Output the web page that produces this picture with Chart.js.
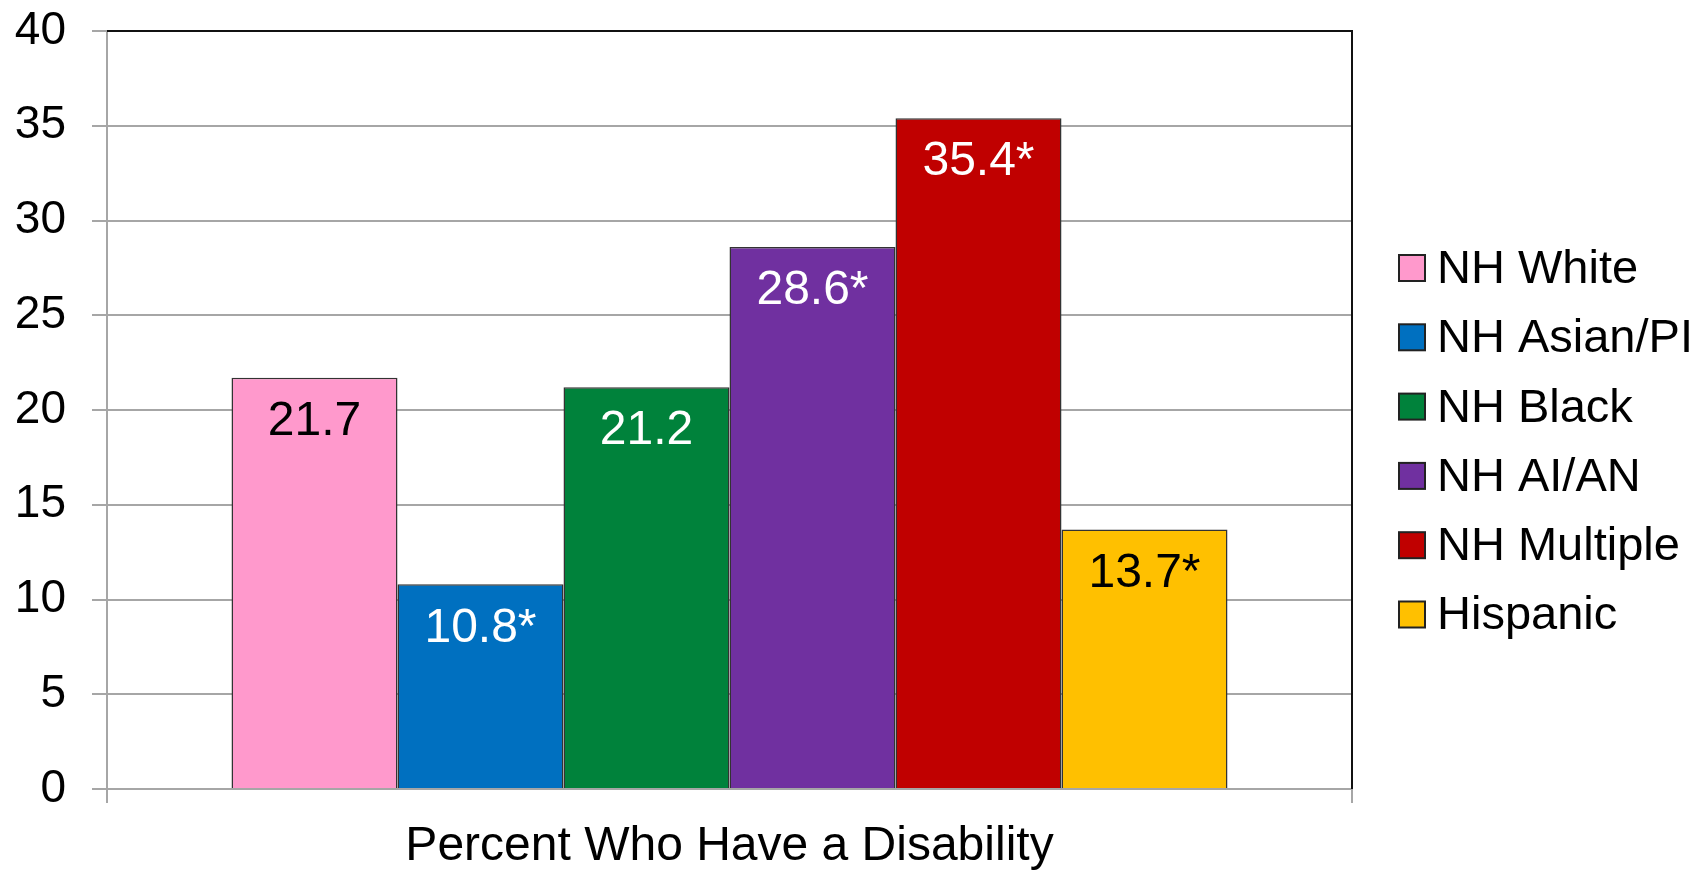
<!DOCTYPE html>
<html>
<head>
<meta charset="utf-8">
<script src="https://cdn.jsdelivr.net/npm/chart.js@4"></script>
<style>
  html, body { margin: 0; padding: 0; background: #fff; }
  #wrap { width: 1698px; height: 871px; position: relative; }
</style>
</head>
<body>
<div id="wrap"><canvas id="disabilityChart"></canvas></div>
<script>
const categories = ['Percent Who Have a Disability'];
const groups = ['NH White', 'NH Asian/PI', 'NH Black', 'NH AI/AN', 'NH Multiple', 'Hispanic'];
const values = [21.7, 10.8, 21.2, 28.6, 35.4, 13.7];
const valueLabels = ['21.7', '10.8*', '21.2', '28.6*', '35.4*', '13.7*'];
const barColors = ['#ff99cc', '#0070c0', '#00823b', '#7030a0', '#c00000', '#ffc000'];
const labelColors = ['#000', '#fff', '#fff', '#fff', '#fff', '#000'];
const yTicks = [0, 5, 10, 15, 20, 25, 30, 35, 40];

const FONT = "'Liberation Sans', Arial, sans-serif";
const GRID = '#a6a6a6';

// labels inside the top of each bar
const barLabels = {
    id: 'barLabels',
    afterDatasetsDraw(chart) {
        const ctx = chart.ctx;
        ctx.save();
        ctx.font = '48px ' + FONT;
        ctx.textAlign = 'center';
        ctx.textBaseline = 'middle';
        chart.data.datasets.forEach((ds, i) => {
            const bar = chart.getDatasetMeta(i).data[0];
            ctx.fillStyle = labelColors[i];
            ctx.fillText(valueLabels[i], bar.x, bar.y + 44);
        });
        ctx.restore();
    }
};

// dark frame on top and right of plot area
const plotFrame = {
    id: 'plotFrame',
    afterDraw(chart) {
        const a = chart.chartArea;
        const ctx = chart.ctx;
        ctx.save();
        ctx.strokeStyle = '#111';
        ctx.lineWidth = 2;
        ctx.beginPath();
        ctx.moveTo(a.left, a.top);
        ctx.lineTo(a.right, a.top);
        ctx.lineTo(a.right, a.bottom);
        ctx.stroke();
        ctx.restore();
    }
};

// legend on the right
const sideLegend = {
    id: 'sideLegend',
    afterDraw(chart) {
        const ctx = chart.ctx;
        ctx.save();
        ctx.font = '47px ' + FONT;
        ctx.textBaseline = 'middle';
        chart.data.datasets.forEach((ds, i) => {
            const y = 268 + i * 69.3;
            ctx.fillStyle = ds.backgroundColor;
            ctx.fillRect(1399, y - 13, 26, 26);
            ctx.strokeStyle = '#222';
            ctx.lineWidth = 2;
            ctx.strokeRect(1399, y - 13, 26, 26);
            ctx.fillStyle = '#000';
            ctx.fillText(ds.label, 1437, y + 2);
        });
        ctx.restore();
    }
};

new Chart(document.getElementById('disabilityChart'), {
    type: 'bar',
    data: {
        labels: categories,
        datasets: groups.map((g, i) => ({
            label: g,
            data: [values[i]],
            backgroundColor: barColors[i],
            borderColor: '#333',
            borderWidth: 1.5,
            categoryPercentage: 0.8,
            barPercentage: 1.0
        }))
    },
    options: {
        responsive: true,
        maintainAspectRatio: false,
        animation: false,
        layout: { padding: { left: 0, right: 346, top: 31, bottom: 0 } },
        plugins: {
            legend: { display: false },
            tooltip: { enabled: false }
        },
        scales: {
            x: {
                grid: { offset: true, drawOnChartArea: false, color: GRID, lineWidth: 2, tickLength: 14 },
                border: { display: true, color: GRID, width: 2 },
                ticks: { color: '#000', font: { family: FONT, size: 48 }, padding: 15 },
                afterFit: s => { s.height = 82; s.paddingLeft = 0; s.paddingRight = 0; }
            },
            y: {
                min: 0,
                max: 40,
                afterBuildTicks: s => { s.ticks = yTicks.map(v => ({ value: v })); },
                grid: { color: GRID, lineWidth: 2, tickLength: 15 },
                border: { display: true, color: GRID, width: 2 },
                ticks: { color: '#000', font: { family: FONT, size: 46 }, padding: 26 },
                afterFit: s => { s.width = 107; s.paddingTop = 0; s.paddingBottom = 0; }
            }
        }
    },
    plugins: [barLabels, plotFrame, sideLegend]
});
</script>
</body>
</html>
